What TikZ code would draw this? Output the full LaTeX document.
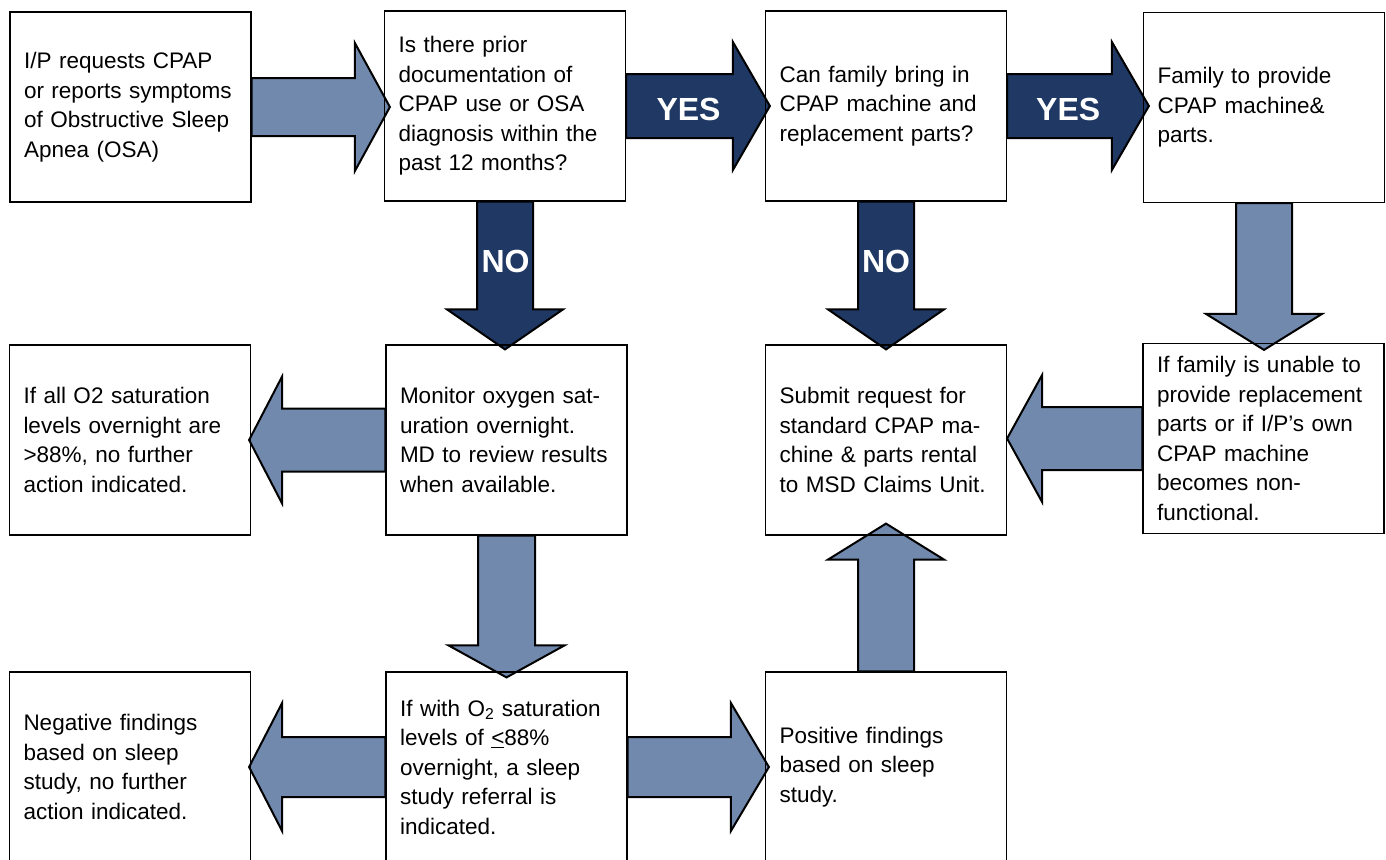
\documentclass[tikz,border=0pt]{standalone}
\usepackage{fontspec}
\setmainfont{Liberation Sans}
\usetikzlibrary{calc}
\definecolor{lightarrow}{HTML}{7089AC}
\definecolor{darkarrow}{HTML}{1F3864}
\pgfdeclarelayer{background}
\pgfsetlayers{background,main}
% #1 style, #2 tail, #3 tip, #4 shaft half width, #5 head half width, #6 head length
\newcommand\blockarrow[6]{%
  \coordinate (ba-base) at ($(#3)!#6!(#2)$);
  \draw[#1] ($(#2)!#4!90:(#3)$) -- ($(ba-base)!#4!90:(#3)$) -- ($(ba-base)!#5!90:(#3)$)
    -- (#3) -- ($(ba-base)!#5!-90:(#3)$) -- ($(ba-base)!#4!-90:(#3)$)
    -- ($(#2)!#4!-90:(#3)$) -- cycle;}
\tikzset{
  box/.style={draw=black, line width=1.2pt, minimum width=241pt, minimum height=190pt,
    text width=213pt, inner xsep=14pt, inner ysep=3pt, align=left,
    font=\fontsize{22.5}{29.5}\selectfont},
  lightarr/.style={fill=lightarrow, draw=black, line width=2pt},
  darkarr/.style={fill=darkarrow, draw=black, line width=2pt},
  lbl/.style={text=white, font=\fontsize{32}{32}\selectfont\bfseries, inner sep=0pt}
}
\begin{document}
\begin{tikzpicture}[x=1pt, y=-1pt]
\useasboundingbox (0,0) rectangle (1386,859);
% boxes
\node[box] (A) at (130.5,107) {I/P requests CPAP\\ or reports symptoms\\ of Obstructive Sleep\\ Apnea (OSA)};
\node[box] (B) at (505,106) {Is there prior\\ documentation of\\ CPAP use or OSA\\ diagnosis within the\\ past 12 months?};
\node[box] (C) at (886,106) {Can family bring in\\ CPAP machine and\\ replacement parts?};
\node[box] (D) at (1264,107.5) {Family to provide\\ CPAP machine\&\\ parts.};
\node[box] (E) at (130,440) {If all O2 saturation\\ levels overnight are\\ >88\%, no further\\ action indicated.};
\node[box] (F) at (506.5,440) {Monitor oxygen sat-\\ uration overnight.\\ MD to review results\\ when available.};
\node[box] (G) at (886,440) {Submit request for\\ standard CPAP ma-\\ chine \& parts rental\\ to MSD Claims Unit.};
\node[box] (H) at (1263.5,438.5) {If family is unable to\\ provide replacement\\ parts or if I/P's own\\ CPAP machine\\ becomes non-\\ functional.};
\node[box] (I) at (130,767) {Negative findings\\ based on sleep\\ study, no further\\ action indicated.};
\node[box] (J) at (506.5,767) {If with O\textsubscript{2} saturation\\ levels of \underline{<}88\%\\ overnight, a sleep\\ study referral is\\ indicated.};
\node[box] (K) at (886,767) {Positive findings\\ based on sleep\\ study.};
% connector end points
\coordinate (ab-t) at (A.east);
\coordinate (ab-h) at ($(A.east -| B.west)+(6,0)$);
\coordinate (bc-t) at (B.east);
\coordinate (bc-h) at ($(B.east -| C.west)+(5,0)$);
\coordinate (cd-t) at (C.east);
\coordinate (cd-h) at ($(C.east -| D.west)+(6,0)$);
\coordinate (bf-t) at (B.south);
\coordinate (bf-h) at ($(B.south |- F.north)+(0,5)$);
\coordinate (cg-t) at (C.south);
\coordinate (cg-h) at ($(C.south |- G.north)+(0,5)$);
\coordinate (dh-t) at (D.south);
\coordinate (dh-h) at ($(D.south |- H.north)+(0,7)$);
\coordinate (fe-t) at (F.west);
\coordinate (fe-h) at ($(F.west -| E.east)+(-2,0)$);
\coordinate (hg-t) at (H.west);
\coordinate (hg-h) at (H.west -| G.east);
\coordinate (fj-t) at (F.south);
\coordinate (fj-h) at ($(F.south |- J.north)+(0,6)$);
\coordinate (ji-t) at (J.west);
\coordinate (ji-h) at ($(J.west -| I.east)+(-2,0)$);
\coordinate (jk-t) at (J.east);
\coordinate (jk-h) at ($(J.east -| K.west)+(4,0)$);
\coordinate (kg-t) at (K.north);
\coordinate (kg-h) at ($(K.north |- G.south)+(0,-12)$);
\begin{pgfonlayer}{background}
\blockarrow{lightarr}{ab-t}{ab-h}{29pt}{64pt}{35pt}
\blockarrow{darkarr}{bc-t}{bc-h}{32pt}{64pt}{37pt}
\blockarrow{darkarr}{cd-t}{cd-h}{32pt}{64pt}{37pt}
\blockarrow{darkarr}{bf-t}{bf-h}{28pt}{58pt}{40pt}
\blockarrow{darkarr}{cg-t}{cg-h}{28pt}{58pt}{40pt}
\blockarrow{lightarr}{dh-t}{dh-h}{28pt}{58pt}{36pt}
\blockarrow{lightarr}{fe-t}{fe-h}{31.5pt}{63.5pt}{33pt}
\blockarrow{lightarr}{hg-t}{hg-h}{31.5pt}{63.5pt}{35pt}
\blockarrow{lightarr}{fj-t}{fj-h}{28.5pt}{58pt}{32pt}
\blockarrow{lightarr}{ji-t}{ji-h}{30pt}{64pt}{33pt}
\blockarrow{lightarr}{jk-t}{jk-h}{30pt}{64pt}{38pt}
\blockarrow{lightarr}{kg-t}{kg-h}{28pt}{58pt}{36pt}
\end{pgfonlayer}
% labels
\node[lbl] (yes1) at ($(B.east)!0.45!(C.west)+(0,3)$) {YES};
\node[lbl] (yes2) at ($(C.east)!0.45!(D.west)+(0,3)$) {YES};
\node[lbl] (no1) at ($(B.south)!0.42!(F.north)$) {NO};
\node[lbl] (no2) at ($(C.south)!0.42!(G.north)$) {NO};
\end{tikzpicture}
\end{document}
